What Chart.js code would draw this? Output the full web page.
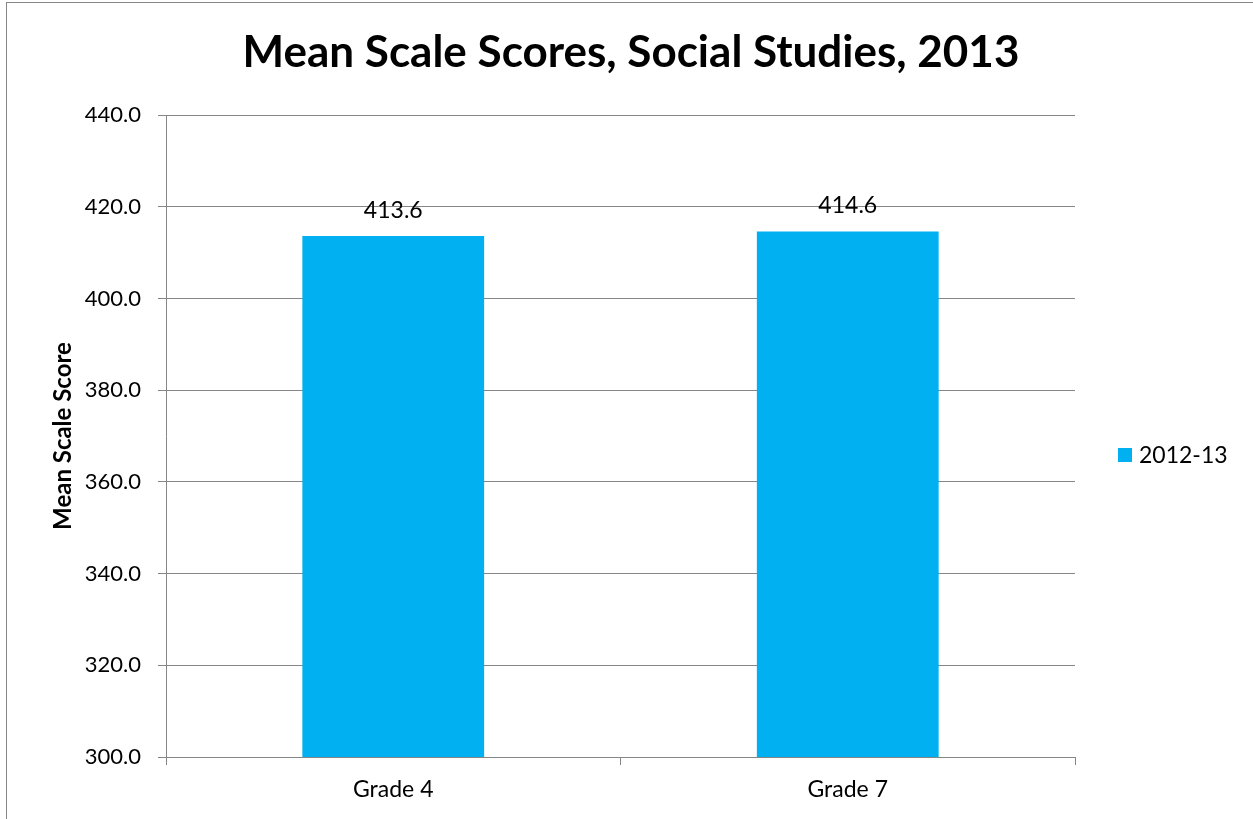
<!DOCTYPE html>
<html>
<head>
<meta charset="utf-8">
<script src="https://cdn.jsdelivr.net/npm/chart.js@4/dist/chart.umd.min.js"></script>
<style>
  html, body { margin: 0; padding: 0; background: #fff; }
  #wrap { width: 1253px; height: 819px; }
</style>
</head>
<body>
<div id="wrap"><canvas id="c" width="1253" height="819"></canvas></div>
<script>
const categories = ['Grade 4', 'Grade 7'];
const seriesName = '2012-13';
const scores = [413.6, 414.6];
const yTicks = [300, 320, 340, 360, 380, 400, 420, 440];
const chartTitle = 'Mean Scale Scores, Social Studies, 2013';
const yTitle = 'Mean Scale Score';

const FONT = 'Lato, "Noto Sans", sans-serif';
const BAR = '#00B0F0';
const GRID = '#868686';

// Frame, title, legend and value labels
const decorations = {
  id: 'decorations',
  beforeDraw(chart) {
    const ctx = chart.ctx;
    ctx.save();
    ctx.fillStyle = '#fff';
    ctx.fillRect(0, 0, chart.width, chart.height);
    ctx.strokeStyle = GRID;
    ctx.lineWidth = 1;
    ctx.strokeRect(6.5, 2.5, chart.width + 20, chart.height + 20);
    ctx.restore();
  },
  afterDraw(chart) {
    const ctx = chart.ctx;
    ctx.save();
    ctx.fillStyle = '#000';
    ctx.font = 'bold 44px ' + FONT;
    ctx.textAlign = 'center';
    ctx.textBaseline = 'middle';
    ctx.fillText(chartTitle, 631, 53);

    // legend
    const ds = chart.data.datasets[0];
    ctx.fillStyle = ds.backgroundColor;
    ctx.fillRect(1118, 448, 14, 14);
    ctx.fillStyle = '#000';
    ctx.font = '23px ' + FONT;
    ctx.textAlign = 'left';
    ctx.fillText(ds.label, 1139, 456);

    // value labels above bars
    const meta = chart.getDatasetMeta(0);
    ctx.font = '23px ' + FONT;
    ctx.textAlign = 'center';
    ctx.textBaseline = 'alphabetic';
    meta.data.forEach((bar, i) => {
      ctx.fillText(ds.data[i].toFixed(1), bar.x, bar.y - 18);
    });
    ctx.restore();
  }
};

new Chart(document.getElementById('c'), {
  type: 'bar',
  data: {
    labels: categories,
    datasets: [{
      label: seriesName,
      data: scores,
      backgroundColor: BAR,
      borderWidth: 0,
      categoryPercentage: 1,
      barPercentage: 0.4
    }]
  },
  options: {
    responsive: false,
    animation: false,
    devicePixelRatio: 1,
    layout: { padding: { left: 0, top: 115, right: 178, bottom: 12 } },
    plugins: {
      legend: { display: false },
      title: { display: false },
      tooltip: { enabled: false }
    },
    scales: {
      x: {
        grid: {
          offset: true,
          drawOnChartArea: false,
          drawTicks: true,
          tickLength: 8,
          color: GRID,
          lineWidth: 1
        },
        border: { color: GRID, width: 1 },
        ticks: { color: '#000', font: { family: FONT, size: 23 }, padding: 11 },
        afterFit(scale) { scale.height = 50; }
      },
      y: {
        min: 300,
        max: 440,
        afterBuildTicks(scale) { scale.ticks = yTicks.map(v => ({ value: v })); },
        grid: { color: GRID, lineWidth: 1, tickLength: 8 },
        border: { color: GRID, width: 1 },
        ticks: {
          color: '#000',
          font: { family: FONT, size: 22 },
          padding: 17,
          callback: v => Number(v).toFixed(1)
        },
        title: {
          display: true,
          text: yTitle,
          color: '#000',
          font: { family: FONT, size: 24, weight: 'bold' },
          padding: { top: 49, bottom: 0 }
        },
        afterFit(scale) { scale.width = 166; }
      }
    }
  },
  plugins: [decorations]
});
</script>
</body>
</html>
